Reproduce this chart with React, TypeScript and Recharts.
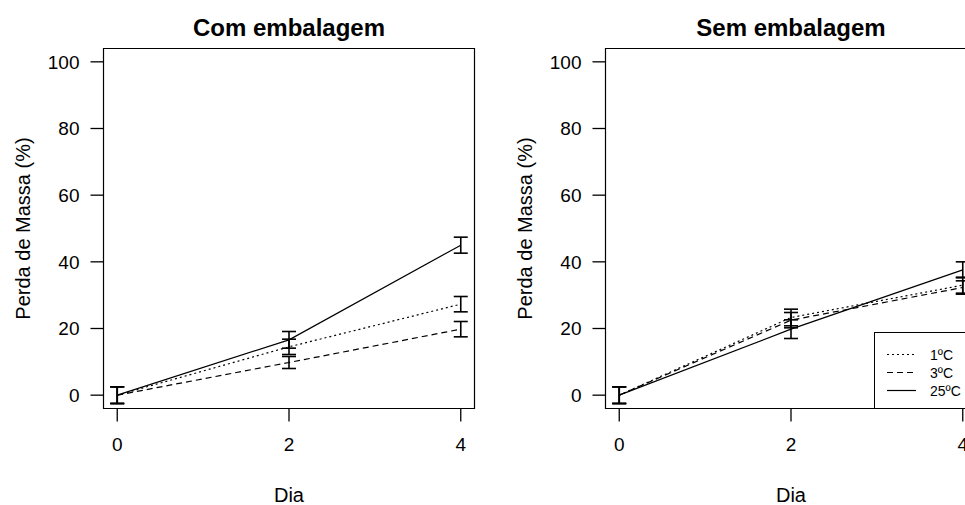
import { LineChart, Line, XAxis, YAxis, ErrorBar, ReferenceArea, Legend } from "recharts";

const DAYS = [0, 2, 4];
const Y_TICKS = [0, 20, 40, 60, 80, 100];
const LABELS = ["1ºC", "3ºC", "25ºC"];

// Com embalagem
const COM_1C = [0, 14.5, 27.3];
const COM_1C_ERR = [2.5, 2.3, 2.3];
const COM_3C = [0, 9.8, 19.8];
const COM_3C_ERR = [2.5, 1.8, 2.3];
const COM_25C = [0, 16.6, 45.0];
const COM_25C_ERR = [2.5, 2.5, 2.4];

// Sem embalagem
const SEM_1C = [0, 23.3, 33.0];
const SEM_1C_ERR = [2.5, 2.5, 2.4];
const SEM_3C = [0, 22.5, 32.3];
const SEM_3C_ERR = [2.5, 2.3, 2.0];
const SEM_25C = [0, 19.8, 37.6];
const SEM_25C_ERR = [2.5, 2.8, 2.4];

const DASHES = ["2 3", "6 4", undefined];
const FONT = '"Liberation Sans", Arial, sans-serif';

function buildRows(vals: number[][], errs: number[][]) {
  return DAYS.map((d, i) => {
    const row: any = { dia: d };
    vals.forEach((v, k) => {
      row["s" + k] = v[i];
      row["e" + k] = errs[k][i];
    });
    return row;
  });
}

const comRows = buildRows([COM_1C, COM_3C, COM_25C], [COM_1C_ERR, COM_3C_ERR, COM_25C_ERR]);
const semRows = buildRows([SEM_1C, SEM_3C, SEM_25C], [SEM_1C_ERR, SEM_3C_ERR, SEM_25C_ERR]);

function LegendBox() {
  return (
    <div style={{ border: "1px solid #000", background: "#fff", width: 120, height: 77, boxSizing: "border-box" }}>
      <svg width={118} height={75}>
        {LABELS.map((l, i) => {
          const y = 21.5 + i * 18;
          return (
            <g key={l}>
              <line x1={12} x2={41} y1={y} y2={y} stroke="#000" strokeWidth={1.2} strokeDasharray={DASHES[i]} />
              <text x={55} y={y + 5} fontSize={14} fontFamily={FONT} fill="#000">{l}</text>
            </g>
          );
        })}
      </svg>
    </div>
  );
}

function Panel({ title, rows, legend }: { title: string; rows: any[]; legend?: boolean }) {
  return (
    <LineChart width={483} height={505} data={rows} margin={{ top: 48.5, bottom: 46.5, left: 43.5, right: 8.5 }}
      style={{ fontFamily: FONT }}>
      <XAxis dataKey="dia" type="number" domain={[-0.16, 4.16]} ticks={DAYS} allowDataOverflow
        axisLine={false} tickSize={13} tickMargin={16} height={50}
        tickLine={{ stroke: "#000", strokeWidth: 1.3 }} tick={{ fill: "#000", fontSize: 19 }} />
      <YAxis type="number" domain={[-4, 104]} ticks={Y_TICKS} allowDataOverflow width={60}
        axisLine={false} tickSize={13} tickMargin={11}
        tickLine={{ stroke: "#000", strokeWidth: 1.3 }} tick={{ fill: "#000", fontSize: 19 }} />
      <ReferenceArea x1={-0.16} x2={4.16} y1={-4} y2={104} fill="none" stroke="#000" strokeWidth={1.2} fillOpacity={0} />
      {LABELS.map((l, k) => (
        <Line key={l} name={l} dataKey={"s" + k} type="linear" stroke="#000" strokeWidth={1.2}
          strokeDasharray={DASHES[k]} dot={false} activeDot={false} isAnimationActive={false}>
          <ErrorBar dataKey={"e" + k} direction="y" width={7} stroke="#000" strokeWidth={1.6} />
        </Line>
      ))}
      {legend && (
        <Legend layout="vertical" align="center" verticalAlign="middle"
          wrapperStyle={{ left: 372, top: 332, width: 120, height: 77 }}
          content={() => <LegendBox />} />
      )}
      <text x={289} y={35.5} textAnchor="middle" fontSize={24} fontWeight="bold" fill="#000">{title}</text>
      <text x={-228.5} y={29.5} transform="rotate(-90)" textAnchor="middle" fontSize={20} fill="#000">Perda de Massa (%)</text>
      <text x={289} y={501.5} textAnchor="middle" fontSize={20} fill="#000">Dia</text>
    </LineChart>
  );
}

export default function App() {
  return (
    <div style={{ position: "fixed", left: 0, top: 0, width: 965, height: 505, overflow: "hidden", background: "#fff", fontFamily: FONT }}>
      <div style={{ position: "absolute", left: 0, top: 0 }}>
        <Panel title="Com embalagem" rows={comRows} />
      </div>
      <div style={{ position: "absolute", left: 502, top: 0 }}>
        <Panel title="Sem embalagem" rows={semRows} legend />
      </div>
    </div>
  );
}
